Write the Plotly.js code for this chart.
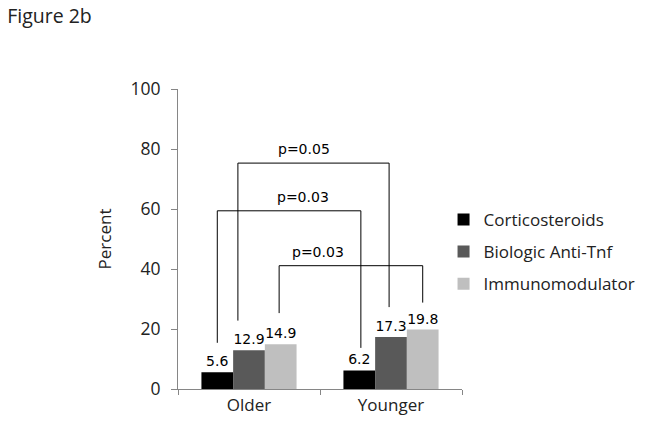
<!DOCTYPE html>
<html>
<head>
<meta charset="utf-8">
<script src="https://cdn.plot.ly/plotly-3.0.1.min.js"></script>
<style>html,body{margin:0;padding:0;background:#fff;}#chart{width:654px;height:435px;}</style>
</head>
<body>
<div id="chart"></div>
<script>
// ---- data ----
var categories = ['Older', 'Younger'];
var seriesNames = ['Corticosteroids', 'Biologic Anti-Tnf', 'Immunomodulator'];
var corticosteroids = [5.6, 6.2];
var biologicAntiTnf = [12.9, 17.3];
var immunomodulator = [14.9, 19.8];
var seriesColors = ['#000000', '#595959', '#bfbfbf'];

// significance brackets: series index, p label, top height, left/right leg bottoms
var bracketSeries = [1, 0, 2];
var bracketLabels = ['p=0.05', 'p=0.03', 'p=0.03'];
var bracketTop = [75.3, 59.4, 41.1];
var bracketLeftBottom = [22.8, 15.4, 25.3];
var bracketRightBottom = [27.3, 13.7, 28.8];

var seriesValues = [corticosteroids, biologicAntiTnf, immunomodulator];

var bargap = 0.33;
var nSeries = seriesValues.length;
var barW = (1 - bargap) / nSeries;

var traces = seriesValues.map(function (vals, i) {
  return {
    type: 'bar',
    name: seriesNames[i],
    x: categories,
    y: vals,
    marker: {color: seriesColors[i], line: {width: 0}},
    text: vals.map(function (v) { return v.toFixed(1); }),
    textposition: 'outside',
    constraintext: 'none',
    cliponaxis: false,
    textfont: {family: 'DejaVu Sans', size: 14, color: '#000'},
    legendgroup: 'g' + i,
    hoverinfo: 'x+y+name'
  };
});

// bracket geometry derived from category index + series offset
function seriesX(catIdx, s) {
  return catIdx + (s - (nSeries - 1) / 2) * barW;
}
var legShift = [[-0.35, -0.06], [0, 0.05], [-0.05, 0]]; // small visual offsets of legs in bar widths
var labelShiftPx = [-10, 14, -33]; // label offsets from bracket centre, px

var shapes = [];
var annotations = [];
bracketSeries.forEach(function (s, k) {
  var xl = seriesX(0, s) + legShift[k][0] * barW;
  var xr = seriesX(1, s) + legShift[k][1] * barW;
  shapes.push({
    type: 'path', xref: 'x', yref: 'y',
    path: 'M' + xl + ',' + bracketLeftBottom[k] + ' L' + xl + ',' + bracketTop[k] +
          ' L' + xr + ',' + bracketTop[k] + ' L' + xr + ',' + bracketRightBottom[k],
    line: {color: '#000', width: 1}
  });
  annotations.push({
    xref: 'x', yref: 'y', x: (xl + xr) / 2, y: bracketTop[k],
    text: bracketLabels[k], showarrow: false, yanchor: 'bottom', yshift: 4,
    xshift: labelShiftPx[k],
    font: {family: 'DejaVu Sans', size: 14, color: '#000'}
  });
});

var layout = {
  width: 654, height: 435,
  margin: {l: 178, r: 192, t: 89, b: 46},
  paper_bgcolor: '#fff', plot_bgcolor: '#fff',
  font: {family: 'Open Sans', size: 17, color: '#222'},
  title: {
    text: 'Figure 2b', xref: 'container', yref: 'container',
    x: 0.011, xanchor: 'left', y: 0.962, yanchor: 'middle',
    font: {family: 'Open Sans', size: 19.5, color: '#222'}
  },
  barmode: 'group', bargap: bargap, bargroupgap: 0,
  xaxis: {
    type: 'category', range: [-0.5, 1.5],
    showline: true, linecolor: '#868686', linewidth: 1,
    ticks: 'outside', tickson: 'boundaries', ticklen: 5, tickcolor: '#868686',
    showgrid: false, zeroline: false,
    tickfont: {family: 'Open Sans', size: 17, color: '#222'},
    ticklabelstandoff: 1
  },
  yaxis: {
    range: [0, 100], dtick: 20, tick0: 0,
    showline: true, linecolor: '#868686', linewidth: 1,
    ticks: 'outside', ticklen: 6, tickcolor: '#868686',
    showgrid: false, zeroline: false,
    tickfont: {family: 'Open Sans', size: 17.5, color: '#222'},
    ticklabelstandoff: 7,
    title: {text: 'Percent', font: {family: 'Open Sans', size: 17, color: '#222'}, standoff: 14}
  },
  showlegend: true,
  legend: {
    x: 0.935, xanchor: 'left', y: 0.457, yanchor: 'middle',
    font: {family: 'Open Sans', size: 17, color: '#222'},
    tracegroupgap: 7, bgcolor: 'rgba(0,0,0,0)'
  },
  shapes: shapes,
  annotations: annotations
};

Plotly.newPlot('chart', traces, layout, {displayModeBar: false, staticPlot: true});
</script>
</body>
</html>
